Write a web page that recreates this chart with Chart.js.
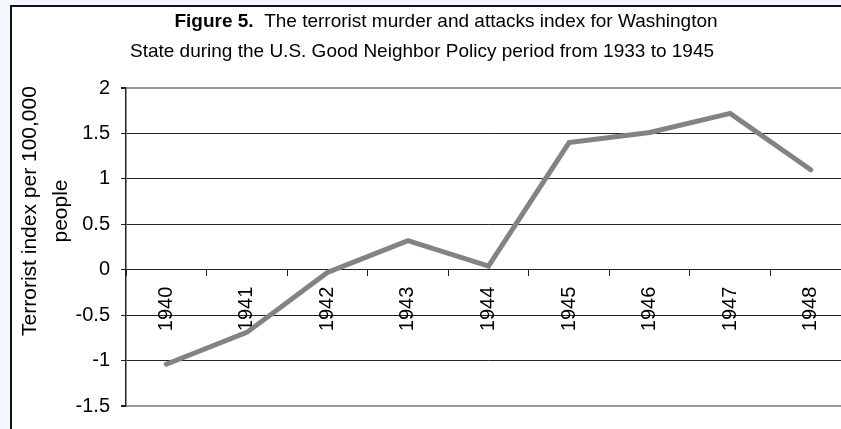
<!DOCTYPE html>
<html>
<head>
<meta charset="utf-8">
<script src="https://cdn.jsdelivr.net/npm/chart.js@4/dist/chart.umd.min.js"></script>
<style>
    html, body { margin: 0; padding: 0; width: 841px; height: 429px; overflow: hidden; background: #f4f8fc; }
    #wrap  { position: absolute; left: 0; top: 0; width: 841px; height: 429px; overflow: hidden; }
    #frame { position: absolute; left: 10px; top: 5px; width: 860px; height: 460px; background: #fff;
             border-left: 2px solid #111; border-top: 2px solid #111; }
    #chart { position: absolute; left: 0; top: 0; }
</style>
</head>
<body>
<div id="wrap">
    <div id="frame"></div>
    <canvas id="chart" width="870" height="429"></canvas>
</div>
<script>
(function () {
    'use strict';

    // ── Data ─────────────────────────────────────────────────────────────────
    var years  = ['1940', '1941', '1942', '1943', '1944', '1945', '1946', '1947', '1948'];
    var index  = [-1.04, -0.69, -0.03, 0.32, 0.04, 1.40, 1.51, 1.72, 1.10];
    var yTicks = [-1.5, -1, -0.5, 0, 0.5, 1, 1.5, 2];

    var titleBold  = 'Figure 5.';
    var titleRest  = '  The terrorist murder and attacks index for Washington';
    var titleLine2 = 'State during the U.S. Good Neighbor Policy period from 1933 to 1945';
    var yTitle     = ['Terrorist index per 100,000', 'people'];

    var FONT = '"Liberation Sans", Arial, sans-serif';

    // ── Titles (mixed bold line, two-line rotated axis title) ───────────────
    var titlePlugin = {
        id: 'figTitles',
        afterDraw: function (chart) {
            var ctx = chart.ctx;
            ctx.save();
            ctx.fillStyle = '#000';
            ctx.textBaseline = 'middle';
            ctx.textAlign = 'left';

            ctx.font = 'bold 19px ' + FONT;
            var wb = ctx.measureText(titleBold).width;
            ctx.font = '19px ' + FONT;
            var wr = ctx.measureText(titleRest).width;
            var x1 = 446 - (wb + wr) / 2;
            ctx.font = 'bold 19px ' + FONT;
            ctx.fillText(titleBold, x1, 22);
            ctx.font = '19px ' + FONT;
            ctx.fillText(titleRest, x1 + wb, 22);

            ctx.textAlign = 'center';
            ctx.fillText(titleLine2, 422, 52);

            ctx.font = '21px ' + FONT;
            ctx.translate(0, 211);
            ctx.rotate(-Math.PI / 2);
            ctx.fillText(yTitle[0], 0, 30);
            ctx.fillText(yTitle[1], 0, 61);
            ctx.restore();
        }
    };

    function isEdge(v) { return v === yTicks[0] || v === yTicks[yTicks.length - 1]; }

    // ── Chart ────────────────────────────────────────────────────────────────
    new Chart(document.getElementById('chart'), {
        type: 'line',
        data: {
            labels: years,
            datasets: [{
                data: index,
                borderColor: '#838383',
                borderWidth: 5,
                pointRadius: 0,
                tension: 0,
                borderCapStyle: 'round',
            }]
        },
        options: {
            responsive: false,
            animation: false,
            layout: { padding: { left: 0, top: 88, right: 19, bottom: 18 } },
            plugins: { legend: { display: false }, tooltip: { enabled: false }, title: { display: false } },
            scales: {
                x: {
                    type: 'category',
                    position: { y: 0 },
                    offset: true,
                    grid: { drawOnChartArea: false, drawTicks: true, tickLength: 6, offset: true, color: '#222' },
                    border: { display: true, color: '#222', width: 1 },
                    ticks: {
                        autoSkip: false, minRotation: 90, maxRotation: 90, padding: 11,
                        color: '#000', font: { family: FONT, size: 20 }
                    }
                },
                y: {
                    min: yTicks[0],
                    max: yTicks[yTicks.length - 1],
                    afterFit: function (s) { s.width = 126; },
                    afterBuildTicks: function (s) { s.ticks = yTicks.map(function (v) { return { value: v }; }); },
                    grid: {
                        drawTicks: true, tickLength: 5, tickColor: '#222',
                        color: function (c) { return c.tick && isEdge(c.tick.value) ? '#9a9a9a' : '#222'; },
                        lineWidth: function (c) { return c.tick && isEdge(c.tick.value) ? 2 : 1; }
                    },
                    border: { display: true, color: '#222', width: 1.5 },
                    ticks: {
                        padding: 11, color: '#000', font: { family: FONT, size: 20 },
                        callback: function (v) { return String(v); }
                    }
                }
            }
        },
        plugins: [titlePlugin]
    });
})();
</script>
</body>
</html>
